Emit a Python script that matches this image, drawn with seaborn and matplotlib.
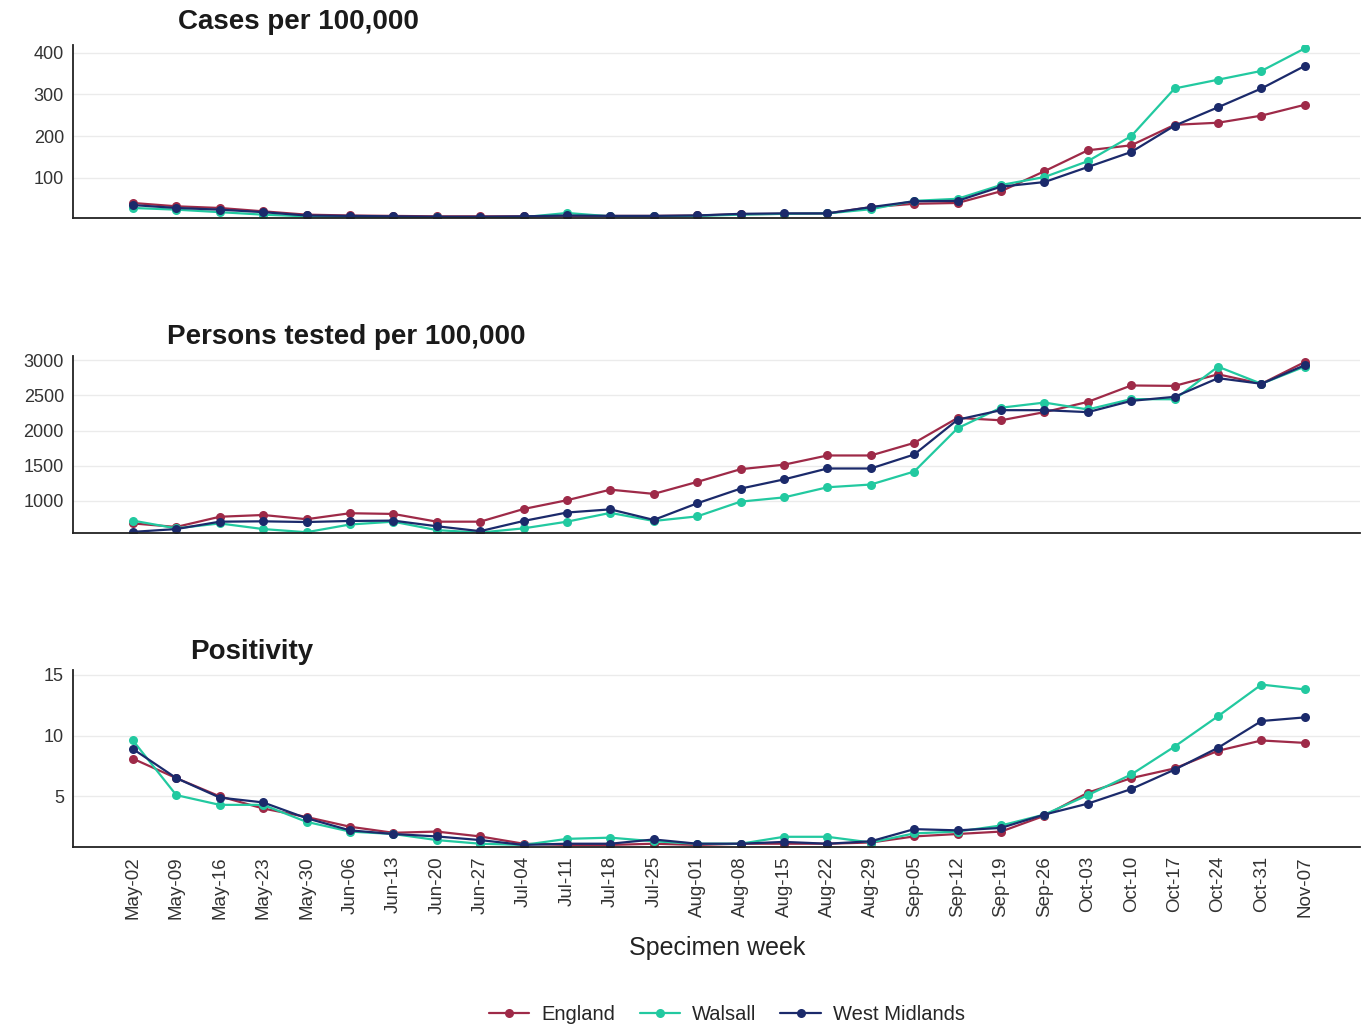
import pandas as pd
import matplotlib.pyplot as plt
import seaborn as sns

# Specimen weeks (x axis)
weeks = ["May-02", "May-09", "May-16", "May-23", "May-30", "Jun-06", "Jun-13",
         "Jun-20", "Jun-27", "Jul-04", "Jul-11", "Jul-18", "Jul-25", "Aug-01",
         "Aug-08", "Aug-15", "Aug-22", "Aug-29", "Sep-05", "Sep-12", "Sep-19",
         "Sep-26", "Oct-03", "Oct-10", "Oct-17", "Oct-24", "Oct-31", "Nov-07"]

# Cases per 100,000
cases_england = [40, 32, 28, 20, 12, 10, 9, 8, 8, 8, 9, 9, 9, 10, 13, 14, 15, 30,
                 38, 40, 68, 116, 166, 178, 227, 232, 249, 275]
cases_walsall = [28, 24, 18, 12, 8, 7, 6, 6, 5, 6, 16, 8, 8, 9, 12, 14, 15, 25,
                 45, 50, 83, 102, 140, 200, 314, 335, 356, 410]
cases_wm = [35, 28, 24, 18, 10, 9, 8, 7, 7, 8, 10, 9, 9, 10, 14, 15, 15, 30,
            44, 45, 79, 90, 126, 162, 225, 269, 314, 368]

# Persons tested per 100,000
tested_england = [680, 630, 775, 800, 740, 825, 815, 705, 705, 885, 1010, 1160,
                  1100, 1270, 1451, 1515, 1646, 1646, 1825, 2180, 2146, 2262,
                  2408, 2641, 2635, 2800, 2665, 2975]
tested_walsall = [720, 610, 680, 600, 555, 665, 705, 585, 550, 610, 705, 830,
                  715, 780, 990, 1050, 1194, 1233, 1418, 2034, 2325, 2398,
                  2300, 2447, 2445, 2908, 2665, 2910]
tested_wm = [560, 600, 705, 710, 700, 715, 720, 640, 570, 715, 835, 880,
             730, 966, 1175, 1306, 1461, 1461, 1660, 2155, 2290, 2290,
             2262, 2422, 2480, 2745, 2665, 2930]

# Positivity (%)
pos_england = [8.1, 6.5, 5.0, 4.0, 3.3, 2.5, 2.0, 2.1, 1.7, 1.1, 1.0, 1.0, 1.1,
               1.0, 1.1, 1.1, 1.1, 1.2, 1.7, 1.9, 2.1, 3.4, 5.3, 6.5, 7.3, 8.75,
               9.6, 9.4]
pos_walsall = [9.6, 5.1, 4.3, 4.3, 2.9, 2.1, 1.9, 1.4, 1.1, 1.0, 1.5, 1.6, 1.3,
               1.1, 1.1, 1.67, 1.67, 1.2, 1.95, 2.1, 2.6, 3.5, 5.1, 6.8, 9.1,
               11.6, 14.2, 13.8]
pos_wm = [8.9, 6.5, 4.9, 4.5, 3.2, 2.2, 1.9, 1.7, 1.4, 1.0, 1.1, 1.1, 1.45,
          1.1, 1.1, 1.25, 1.1, 1.3, 2.3, 2.2, 2.4, 3.5, 4.4, 5.6, 7.2, 9.0,
          11.2, 11.5]

areas = ["England", "Walsall", "West Midlands"]
palette = {"England": "#9E2A48", "Walsall": "#22C9A0", "West Midlands": "#1B2A6B"}


def long_frame(eng, wal, wm):
    rows = []
    for area, vals in zip(areas, [eng, wal, wm]):
        for i, v in enumerate(vals):
            rows.append({"week": i, "area": area, "value": v})
    return pd.DataFrame(rows)


panels = [
    ("Cases per 100,000", long_frame(cases_england, cases_walsall, cases_wm),
     [100, 200, 300, 400], (4, 418), 178, 22),
    ("Persons tested per 100,000", long_frame(tested_england, tested_walsall, tested_wm),
     [1000, 1500, 2000, 2500, 3000], (544, 3060), 167, 337),
    ("Positivity", long_frame(pos_england, pos_walsall, pos_wm),
     [5, 10, 15], (0.83, 15.4), 190, 652),
]

sns.set_style("white")
plt.rcParams["font.family"] = ["Liberation Sans", "DejaVu Sans"]

W, H = 1372, 1027
fig = plt.figure(figsize=(W / 100, H / 100), dpi=100)

# axes boxes in pixels: (top, bottom)
boxes = [(45, 218), (356, 533), (670, 847)]
left_px, right_px = 73, 1360

for (title, df, yticks, ylim, tx, ty), (top, bottom) in zip(panels, boxes):
    ax = fig.add_axes([left_px / W, 1 - bottom / H, (right_px - left_px) / W, (bottom - top) / H])
    sns.lineplot(data=df, x="week", y="value", hue="area", hue_order=areas,
                 palette=palette, marker="o", markersize=6.5, markeredgewidth=0,
                 linewidth=1.6, ax=ax, legend=False)
    ax.set_xlim(-1.38, 28.27)
    ax.set_ylim(*ylim)
    ax.set_yticks(yticks)
    ax.set_xticks(range(len(weeks)))
    ax.set_xlabel("")
    ax.set_ylabel("")
    ax.grid(axis="y", color="#EBEBEB", linewidth=1.0)
    ax.set_axisbelow(True)
    for s in ["top", "right"]:
        ax.spines[s].set_visible(False)
    for s in ["left", "bottom"]:
        ax.spines[s].set_color("#222222")
        ax.spines[s].set_linewidth(1.3)
    ax.tick_params(axis="both", length=4, width=1.0, color="#333333",
                   labelcolor="#333333", direction="out", pad=2.5)
    ax.tick_params(axis="y", labelsize=13)
    ax.tick_params(axis="x", labelsize=13.5)
    if title == "Positivity":
        ax.set_xticklabels(weeks, rotation=90)
    else:
        ax.set_xticklabels([])
    fig.text(tx / W, 1 - ty / H, title, fontsize=20, fontweight="bold",
             ha="left", va="center", color="#1a1a1a")

fig.text(717 / W, 1 - 948 / H, "Specimen week", fontsize=18, ha="center",
         va="center", color="#222222")

handles = [plt.Line2D([], [], color=palette[a], marker="o", markersize=6.5,
                      markeredgewidth=0, linewidth=1.6) for a in areas]
fig.legend(handles, areas, loc="center", bbox_to_anchor=(727 / W, 1 - 1015 / H),
           ncol=3, frameon=False, fontsize=14.5, handlelength=2.0,
           columnspacing=1.2, handletextpad=0.6)

fig.savefig("out.png", dpi=100)
